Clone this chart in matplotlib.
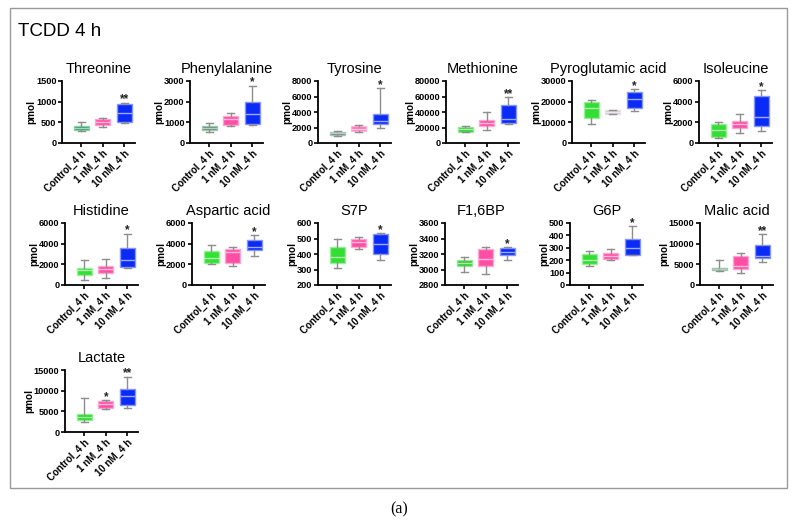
import matplotlib
matplotlib.use("Agg")
import matplotlib.pyplot as plt
from matplotlib.colors import to_rgb
from matplotlib.patches import Rectangle

plt.rcParams["font.family"] = ["Liberation Sans", "DejaVu Sans"]

# =========================
# data: five-number summaries (min, q1, median, q3, max) per group
# =========================
groups = ["Control_4 h", "1 nM_4 h", "10 nM_4 h"]

titles = ["Threonine", "Phenylalanine", "Tyrosine", "Methionine", "Pyroglutamic acid", "Isoleucine",
          "Histidine", "Aspartic acid", "S7P", "F1,6BP", "G6P", "Malic acid",
          "Lactate"]

threonine = [(300, 310, 365, 415, 520), (390, 447, 505, 570, 610), (490, 496, 715, 940, 975)]
phenylalanine = [(540, 620, 715, 800, 990), (810, 880, 1150, 1320, 1430), (880, 940, 1400, 1970, 2780)]
tyrosine = [(950, 1030, 1250, 1380, 1550), (1380, 1550, 1850, 2200, 2320), (1980, 2400, 2880, 3700, 7100)]
methionine = [(14000, 14500, 18000, 21000, 21500), (16800, 22000, 26000, 29700, 39500),
              (24000, 26200, 31000, 49000, 59000)]
pyroglutamic = [(9000, 12300, 17000, 19600, 20900), (13800, 14100, 14900, 15900, 16200),
                (15600, 17000, 21400, 24600, 26100)]
isoleucine = [(450, 550, 1250, 1800, 2050), (1000, 1420, 1840, 2130, 2800), (1190, 1680, 2550, 4580, 5130)]
histidine = [(510, 930, 1420, 1640, 2410), (700, 1160, 1510, 1860, 2540), (1600, 1750, 2450, 3600, 4980)]
aspartic = [(2060, 2150, 2630, 3270, 3850), (1800, 2120, 3200, 3500, 3700), (2790, 3340, 3650, 4330, 4820)]
s7p = [(310, 340, 380, 444, 500), (430, 445, 475, 495, 512), (360, 403, 465, 532, 537)]
f16bp = [(2970, 3043, 3085, 3124, 3155), (2945, 3043, 3140, 3270, 3285), (3128, 3192, 3226, 3280, 3292)]
g6p = [(153, 166, 205, 253, 271), (205, 210, 237, 258, 289), (240, 243, 297, 368, 474)]
malic = [(3300, 3550, 3950, 4200, 6100), (3000, 3950, 4600, 7100, 7750), (5600, 6640, 7100, 9560, 12250)]
lactate = [(2430, 2840, 3650, 4380, 8180), (5600, 5840, 6730, 7460, 7700), (5920, 6480, 8830, 10300, 13370)]

summaries = [threonine, phenylalanine, tyrosine, methionine, pyroglutamic, isoleucine,
             histidine, aspartic, s7p, f16bp, g6p, malic, lactate]

stars = [["", "", "**"], ["", "", "*"], ["", "", "*"], ["", "", "**"], ["", "", "*"], ["", "", "*"],
         ["", "", "*"], ["", "", "*"], ["", "", "*"], ["", "", "*"], ["", "", "*"], ["", "", "**"],
         ["", "*", "**"]]

y_min = [0, 0, 0, 0, 0, 0, 0, 0, 200, 2800, 0, 0, 0]
y_max = [1500, 3000, 8000, 80000, 30000, 6000, 6000, 6000, 600, 3600, 500, 15000, 15000]
y_step = [500, 1000, 2000, 20000, 10000, 2000, 2000, 2000, 100, 200, 100, 5000, 5000]

# =========================
# colours
# =========================
control_colors = ["#1f9a58", "#4a886a", "#5a8272", "#2ed02e", "#33dd33", "#33dd33",
                  "#33e033", "#33e033", "#33dd33", "#33cc33", "#33dd33", "#358858", "#22dd22"]
nm1_colors = ["#ff4fa5"] * 13
nm1_colors[2] = "#ff70b4"
nm1_colors[4] = "#cfc2cc"
nm10_color = "#0a2af5"


def lighter(c, f=0.55):
    r, g, b = to_rgb(c)
    return (r + (1 - r) * f, g + (1 - g) * f, b + (1 - b) * f)


# =========================
# layout (pixels in a 797x526 figure)
# =========================
W, H = 797, 526
row_lefts = [[62, 190, 318, 446, 572, 699], [65, 192, 318, 445, 570, 700], [65]]
row_tops = [81, 223, 370]
ax_w, ax_h = 73, 62

fig = plt.figure(figsize=(W / 100, H / 100), dpi=100)

# outer frame
fig.patches.append(Rectangle((10 / W, 1 - 488 / H), 777 / W, 480 / H, transform=fig.transFigure,
                             fill=False, edgecolor="#9a9a9a", linewidth=1.0))
fig.text(18 / W, 1 - 31 / H, "TCDD 4 h", fontsize=13.5, va="center", ha="left")
fig.text(399 / W, 1 - 509 / H, "(a)", fontsize=11.5, va="center", ha="center",
         family=["Liberation Serif", "DejaVu Serif"])

i = 0
for r, lefts in enumerate(row_lefts):
    for left in lefts:
        ax = fig.add_axes([left / W, 1 - (row_tops[r] + ax_h) / H, ax_w / W, ax_h / H])
        summ = summaries[i]
        stats = [dict(whislo=s[0], q1=s[1], med=s[2], q3=s[3], whishi=s[4]) for s in summ]
        faces = [control_colors[i], nm1_colors[i], nm10_color]
        bp = ax.bxp(stats, positions=[1, 2, 3], widths=0.68, patch_artist=True, showfliers=False,
                    boxprops=dict(linewidth=1.0),
                    whiskerprops=dict(color="#8e8e8e", linewidth=1.0),
                    capprops=dict(color="#8e8e8e", linewidth=1.0),
                    medianprops=dict(linewidth=1.0), capwidths=0.34)
        for k, box in enumerate(bp["boxes"]):
            box.set_facecolor(faces[k])
            box.set_edgecolor(lighter(faces[k], 0.5))
            bp["medians"][k].set_color(lighter(faces[k], 0.6))
        yr = y_max[i] - y_min[i]
        for k, s in enumerate(stars[i]):
            if s:
                ax.text(k + 1, summ[k][4] + 0.05 * yr, s, ha="center", va="center",
                        fontsize=8.5, fontweight="bold", color="#222222")

        ax.set_xlim(0.1, 3.5)
        ax.set_ylim(y_min[i], y_max[i])
        ticks = list(range(y_min[i], y_max[i] + 1, y_step[i]))
        ax.set_yticks(ticks)
        ax.set_yticklabels([str(t) for t in ticks], fontsize=6.6, fontweight="bold")
        ax.set_xticks([1, 2, 3])
        ax.set_xticklabels(groups, rotation=45, ha="right", rotation_mode="anchor",
                           fontsize=7, fontweight="bold")
        ax.set_ylabel("pmol", fontsize=7.2, fontweight="bold", labelpad=-0.5)
        ax.set_title(titles[i], fontsize=10.5, pad=6)
        ax.spines["top"].set_visible(False)
        ax.spines["right"].set_visible(False)
        for sp in ("left", "bottom"):
            ax.spines[sp].set_linewidth(1.3)
        ax.tick_params(direction="out", length=3, width=1.2, pad=1)
        ax.patch.set_alpha(0)
        i += 1

plt.savefig("out.png", dpi=100)
